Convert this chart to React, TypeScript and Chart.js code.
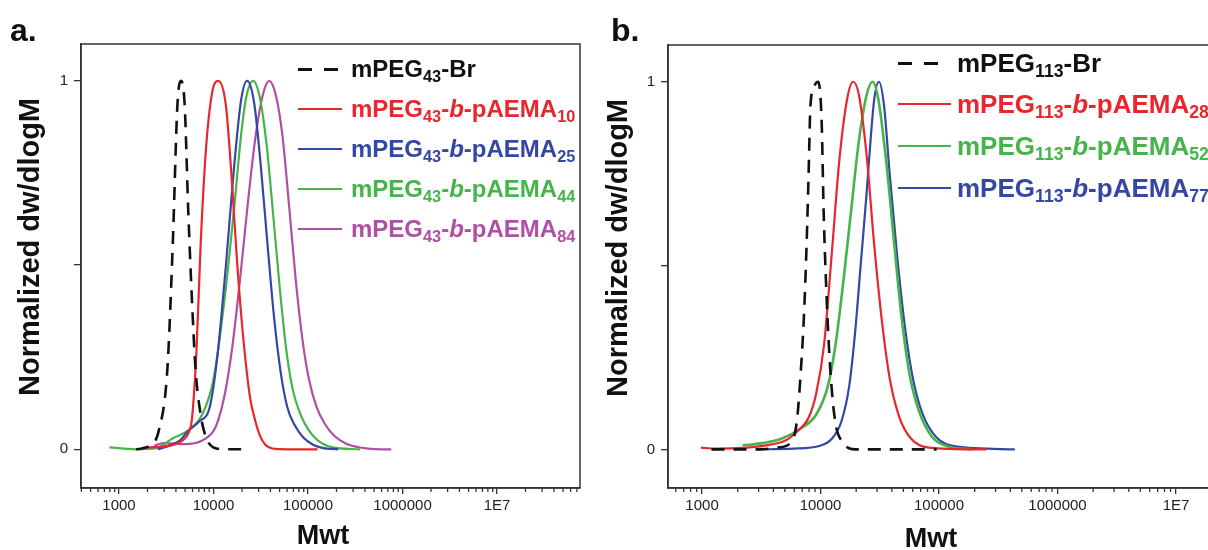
import React, { useEffect, useRef } from 'react';
import { Chart, registerables } from 'chart.js';
Chart.register(...registerables);

// ---------- Panel a data (Mwt vs normalized dw/dlogM) ----------
const mwtA_Br = [1514, 1778, 2100, 2630, 3250, 3700, 4150, 4500, 4950, 5400, 5900, 6450, 7300, 8320, 10000, 13500, 20000];
const valA_Br = [0, 0.003, 0.01, 0.05, 0.219, 0.553, 0.935, 1.0, 0.935, 0.649, 0.41, 0.219, 0.095, 0.033, 0.005, 0, 0];

const mwtA_10 = [2000, 3500, 5000, 5560, 5900, 6600, 7300, 8350, 9700, 11220, 13490, 15490, 17780, 20420, 24270, 27540, 30900, 35000, 45000, 63100, 100000, 126000];
const valA_10 = [0.005, 0.01, 0.03, 0.05, 0.08, 0.267, 0.553, 0.82, 0.97, 1.0, 0.935, 0.744, 0.506, 0.315, 0.143, 0.079, 0.038, 0.014, 0.001, 0, 0, 0];

const mwtA_25 = [2570, 3390, 4470, 5310, 7000, 9120, 10960, 13490, 16220, 19500, 22650, 26920, 31620, 37150, 43650, 51290, 60260, 72440, 89130, 112200, 141300, 208900];
const valA_25 = [0, 0.01, 0.025, 0.048, 0.075, 0.115, 0.25, 0.496, 0.744, 0.945, 1.0, 0.94, 0.77, 0.56, 0.36, 0.21, 0.115, 0.065, 0.032, 0.013, 0.004, 0];

const mwtA_44 = [794, 1500, 2500, 3710, 5310, 7620, 10000, 13120, 16440, 19680, 22390, 26300, 30900, 36310, 42660, 50120, 58880, 69180, 83180, 100000, 125900, 177800, 354800];
const valA_44 = [0.005, 0.0, 0.003, 0.03, 0.05, 0.095, 0.19, 0.41, 0.649, 0.859, 0.96, 1.0, 0.955, 0.83, 0.64, 0.44, 0.27, 0.16, 0.095, 0.055, 0.025, 0.006, 0];

const mwtA_84 = [2360, 3000, 5000, 7600, 10000, 11220, 13180, 15850, 19050, 22910, 27540, 33110, 38900, 45710, 53700, 63100, 74130, 87100, 102300, 123000, 149600, 190500, 251200, 354800, 588800, 758600];
const valA_84 = [0.01, 0.017, 0.014, 0.024, 0.05, 0.079, 0.15, 0.28, 0.46, 0.66, 0.84, 0.96, 1.0, 0.96, 0.85, 0.66, 0.46, 0.3, 0.19, 0.115, 0.07, 0.036, 0.016, 0.005, 0, 0];

// ---------- Panel b data ----------
const mwtB_Br = [1202, 3000, 4335, 5623, 6310, 6808, 7244, 7621, 7925, 8222, 8900, 9550, 10230, 10620, 11270, 12080, 13300, 15490, 19500, 40000, 95500];
const valB_Br = [0, 0, 0.005, 0.019, 0.076, 0.21, 0.363, 0.553, 0.744, 0.935, 0.99, 1.0, 0.887, 0.649, 0.41, 0.219, 0.076, 0.019, 0, 0, 0];

const mwtB_28 = [977, 1300, 2377, 3467, 5047, 6310, 7925, 9204, 10720, 12450, 14450, 16790, 18840, 21090, 24490, 28440, 33110, 38460, 46450, 58210, 81660, 251200];
const valB_28 = [0.005, 0.002, 0.005, 0.011, 0.024, 0.048, 0.086, 0.153, 0.286, 0.534, 0.79, 0.954, 1.0, 0.964, 0.8, 0.553, 0.344, 0.191, 0.086, 0.029, 0.005, 0];

const mwtB_52 = [2203, 3214, 4677, 6808, 9204, 11530, 13400, 15600, 18110, 21090, 24490, 27420, 30690, 35650, 41500, 48190, 55980, 67610, 87900, 118900, 186200];
const valB_52 = [0.011, 0.017, 0.029, 0.057, 0.095, 0.172, 0.286, 0.458, 0.649, 0.84, 0.964, 1.0, 0.954, 0.79, 0.572, 0.363, 0.21, 0.105, 0.033, 0.008, 0];

const mwtB_77 = [2864, 5861, 9931, 12450, 15000, 17460, 19540, 21880, 24490, 26420, 28440, 31120, 34360, 38460, 44670, 52000, 60390, 72950, 94840, 138400, 436500];
const valB_77 = [0, 0.002, 0.01, 0.029, 0.076, 0.172, 0.315, 0.506, 0.697, 0.84, 0.954, 1.0, 0.935, 0.744, 0.515, 0.324, 0.191, 0.095, 0.033, 0.008, 0];

// ---------- labels ----------
const pegA = '43';
const pegB = '113';
const degA = ['10', '25', '44', '84'];
const degB = ['28', '52', '77'];
const yTicks = [0, 0.5, 1];
const yTickLabels = ['0', '', '1'];
const xTitle = 'Mwt';
const yTitle = 'Normalized dw/dlogM';

const BLACK = '#111111';
const RED = '#e8262d';
const BLUE = '#3547a5';
const GREEN = '#46b549';
const MAGENTA = '#b04fa5';

const colorsA = [RED, BLUE, GREEN, MAGENTA];
const colorsB = [RED, GREEN, BLUE];

const FONT = '"Liberation Sans", Arial, Helvetica, sans-serif';

const isDecade = (v: number) => Math.abs(Math.log10(v) - Math.round(Math.log10(v))) < 1e-6;

const frameAndMinorTicks = {
  id: 'frameAndMinorTicks',
  afterDraw(chart: any) {
    const { ctx, chartArea: a, scales } = chart;
    const x = scales.x;
    ctx.save();
    ctx.strokeStyle = '#333';
    ctx.lineWidth = 1.5;
    ctx.strokeRect(a.left, a.top, a.right - a.left, a.bottom - a.top);
    ctx.lineWidth = 1.3;
    for (const t of x.ticks) {
      if (!isDecade(t.value)) {
        const px = x.getPixelForValue(t.value);
        if (px < a.left || px > a.right) continue;
        ctx.beginPath();
        ctx.moveTo(px, a.bottom);
        ctx.lineTo(px, a.bottom + 4);
        ctx.stroke();
      }
    }
    ctx.restore();
  },
};

function mk(mwt: number[], val: number[], color: string, dashed = false, width = 2.2) {
  return {
    data: mwt.map((m, i) => ({ x: m, y: val[i] })),
    borderColor: color,
    borderWidth: dashed ? 2.6 : width,
    borderDash: dashed ? [13, 9] : [],
    pointRadius: 0,
    fill: false,
    cubicInterpolationMode: 'monotone' as const,
  };
}

function makeConfig(datasets: any[], xmin: number, xmax: number, padTop: number, yWidth: number) {
  return {
    type: 'line' as const,
    data: { datasets },
    options: {
      responsive: false,
      animation: false as const,
      events: [],
      layout: { padding: { left: 0, top: padTop, right: 20, bottom: 0 } },
      plugins: { legend: { display: false }, tooltip: { enabled: false } },
      scales: {
        x: {
          type: 'logarithmic' as const,
          min: xmin,
          max: xmax,
          afterFit: (s: any) => { s.height = 62; },
          afterBuildTicks: (s: any) => {
            const ticks: any[] = [];
            for (let e = 2; e <= 8; e++) {
              for (let k = 1; k <= 9; k++) {
                const v = k * Math.pow(10, e);
                if (v >= xmin && v <= xmax) ticks.push({ value: v });
              }
            }
            s.ticks = ticks;
          },
          ticks: {
            autoSkip: false,
            maxRotation: 0,
            padding: 3,
            color: '#222',
            font: { family: FONT, size: 15 },
            callback: (v: any) => {
              const n = Number(v);
              if (!isDecade(n)) return '';
              const e = Math.round(Math.log10(n));
              return e >= 7 ? '1E' + e : String(Math.pow(10, e));
            },
          },
          grid: {
            drawOnChartArea: false,
            drawTicks: true,
            tickLength: 6,
            lineWidth: 1.3,
            color: (c: any) => (c.tick && isDecade(c.tick.value) ? '#333' : 'rgba(0,0,0,0)'),
          },
          border: { display: true, color: '#333', width: 1.5 },
        },
        y: {
          type: 'linear' as const,
          min: -0.105,
          max: 1.1,
          afterFit: (s: any) => { s.width = yWidth; },
          afterBuildTicks: (s: any) => { s.ticks = yTicks.map((v) => ({ value: v })); },
          ticks: {
            padding: 6,
            color: '#222',
            font: { family: FONT, size: 15 },
            callback: (v: any) => {
              const i = yTicks.indexOf(Number(v));
              return i >= 0 ? yTickLabels[i] : '';
            },
          },
          grid: { drawOnChartArea: false, drawTicks: true, tickLength: 7, lineWidth: 1.3, color: '#333' },
          border: { display: true, color: '#333', width: 1.5 },
        },
      },
    },
    plugins: [frameAndMinorTicks],
  };
}

function Sub({ children }: { children: any }) {
  return <span style={{ fontSize: '0.68em', position: 'relative', top: '0.3em' }}>{children}</span>;
}

function LegendRow(props: { lineLeft: number; lineLen: number; textLeft: number; y: number; size: number; color: string; dashed?: boolean; children: any }) {
  const { lineLeft, lineLen, textLeft, y, size, color, dashed, children } = props;
  const lw = dashed ? 3 : 2.5;
  const line = dashed ? (
    <>
      <div style={{ position: 'absolute', left: lineLeft, top: y - lw / 2, width: 14, height: lw, background: color }} />
      <div style={{ position: 'absolute', left: lineLeft + 26, top: y - lw / 2, width: 14, height: lw, background: color }} />
    </>
  ) : (
    <div style={{ position: 'absolute', left: lineLeft, top: y - lw / 2, width: lineLen, height: lw, background: color }} />
  );
  return (
    <>
      {line}
      <div style={{ position: 'absolute', left: textLeft, top: y - size * 0.5, height: size, lineHeight: size + 'px', fontSize: size, fontWeight: 'bold', fontFamily: FONT, color, whiteSpace: 'nowrap' }}>
        {children}
      </div>
    </>
  );
}

function Copolymer({ peg, deg }: { peg: string; deg: string }) {
  return (
    <>mPEG<Sub>{peg}</Sub>-<i>b</i>-pAEMA<Sub>{deg}</Sub></>
  );
}

const textStyle = (size: number): any => ({ position: 'absolute', fontFamily: FONT, fontWeight: 'bold', fontSize: size, lineHeight: size + 'px', color: BLACK, whiteSpace: 'nowrap' });

export default function App() {
  const refA = useRef<HTMLCanvasElement>(null);
  const refB = useRef<HTMLCanvasElement>(null);

  useEffect(() => {
    const dsA = [
      mk(mwtA_Br, valA_Br, BLACK, true),
      mk(mwtA_10, valA_10, colorsA[0]),
      mk(mwtA_25, valA_25, colorsA[1]),
      mk(mwtA_44, valA_44, colorsA[2]),
      mk(mwtA_84, valA_84, colorsA[3]),
    ];
    const dsB = [
      mk(mwtB_Br, valB_Br, BLACK, true),
      mk(mwtB_28, valB_28, colorsB[0]),
      mk(mwtB_52, valB_52, colorsB[1], false, 2.6),
      mk(mwtB_77, valB_77, colorsB[2]),
    ];
    const cA = new Chart(refA.current as HTMLCanvasElement, makeConfig(dsA, 396, 7.55e7, 44, 81) as any);
    const cB = new Chart(refB.current as HTMLCanvasElement, makeConfig(dsB, 516, 7.55e7, 45, 68) as any);
    return () => { cA.destroy(); cB.destroy(); };
  }, []);

  return (
    <div style={{ position: 'absolute', left: 0, top: 0, width: 1208, height: 550, overflow: 'hidden', background: '#fff' }}>
      <canvas ref={refA} width={600} height={550} style={{ position: 'absolute', left: 0, top: 0, width: 600, height: 550 }} />
      <canvas ref={refB} width={700} height={550} style={{ position: 'absolute', left: 600, top: 0, width: 700, height: 550 }} />

      {/* panel labels */}
      <div style={{ ...textStyle(32), left: 10, top: 14 }}>a.</div>
      <div style={{ ...textStyle(32), left: 611, top: 14 }}>b.</div>

      {/* axis titles */}
      <div style={{ ...textStyle(29), left: 29, top: 247, transform: 'translate(-50%, -50%) rotate(-90deg)' }}>{yTitle}</div>
      <div style={{ ...textStyle(29), left: 617, top: 248, transform: 'translate(-50%, -50%) rotate(-90deg)' }}>{yTitle}</div>
      <div style={{ ...textStyle(27), left: 323, top: 535, transform: 'translate(-50%, -50%)' }}>{xTitle}</div>
      <div style={{ ...textStyle(27), left: 931, top: 538, transform: 'translate(-50%, -50%)' }}>{xTitle}</div>

      {/* legend a */}
      <LegendRow lineLeft={298} lineLen={44} textLeft={351} y={69} size={24} color={BLACK} dashed>mPEG<Sub>{pegA}</Sub>-Br</LegendRow>
      {degA.map((d, i) => (
        <LegendRow key={d} lineLeft={298} lineLen={44} textLeft={351} y={109 + 40 * i} size={24} color={colorsA[i]}>
          <Copolymer peg={pegA} deg={d} />
        </LegendRow>
      ))}

      {/* legend b */}
      <LegendRow lineLeft={898} lineLen={53} textLeft={957} y={63} size={26} color={BLACK} dashed>mPEG<Sub>{pegB}</Sub>-Br</LegendRow>
      {degB.map((d, i) => (
        <LegendRow key={d} lineLeft={898} lineLen={53} textLeft={957} y={104 + 42 * i} size={26} color={colorsB[i]}>
          <Copolymer peg={pegB} deg={d} />
        </LegendRow>
      ))}
    </div>
  );
}
